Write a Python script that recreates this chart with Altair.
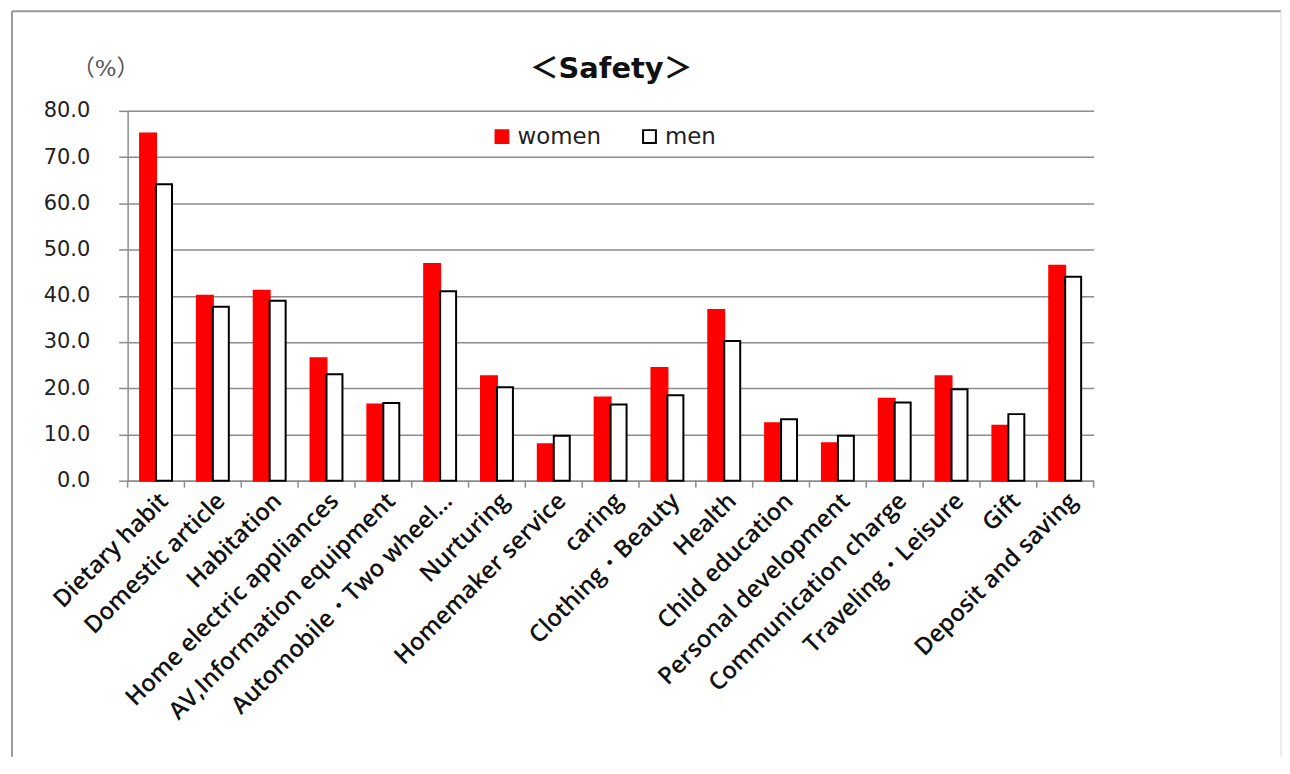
import altair as alt
import pandas as pd

categories = [
    "Dietary habit", "Domestic article", "Habitation", "Home electric appliances",
    "AV,Information equipment", "Automobile・Two wheel…", "Nurturing",
    "Homemaker service", "caring", "Clothing・Beauty", "Health", "Child education",
    "Personal development", "Communication charge", "Traveling・Leisure", "Gift",
    "Deposit and saving",
]
women = [75.1, 40.0, 41.1, 26.5, 16.5, 46.9, 22.6, 7.9, 18.0, 24.4, 36.9, 12.4, 8.1, 17.7, 22.6, 11.9, 46.5]
men = [64.1, 37.6, 38.9, 23.0, 16.8, 41.0, 20.2, 9.7, 16.5, 18.5, 30.2, 13.3, 9.7, 16.9, 19.8, 14.4, 44.1]
series = ["women", "men"]
y_ticks = [0, 10, 20, 30, 40, 50, 60, 70, 80]

rows = []
for c, w, m in zip(categories, women, men):
    rows.append({"category": c, "gender": "women", "value": w})
    rows.append({"category": c, "gender": "men", "value": m})
df = pd.DataFrame(rows)
cat_df = pd.DataFrame({"category": categories})
last_df = pd.DataFrame({"category": categories[-1:]})

W, H = 969, 371
GRAY = "#8c8c8c"

xscale = alt.Scale(paddingInner=0, paddingOuter=0)

legend_kw = dict(
    title=None, orient="none", legendX=364, legendY=14,
    direction="horizontal", symbolType="square", symbolSize=165,
    symbolStrokeWidth=2, labelFont="DejaVu Sans", labelFontSize=23,
    labelColor="#222", columnPadding=36, labelOffset=4, padding=0,
)

bars = alt.Chart(df).mark_bar(strokeWidth=2).encode(
    x=alt.X(
        "category:N", sort=categories, scale=xscale,
        axis=alt.Axis(
            title=None, ticks=False, domainColor=GRAY, domainWidth=1.5,
            labelAngle=-45, labelAlign="right", labelBaseline="top",
            labelFont="Open Sans", labelFontWeight=600, labelFontSize=24,
            labelColor="#111", labelPadding=8, labelLimit=500,
        ),
    ),
    xOffset=alt.XOffset("gender:N", sort=series,
                        scale=alt.Scale(paddingInner=0, paddingOuter=0.78)),
    y=alt.Y(
        "value:Q", scale=alt.Scale(domain=[0, 80]),
        axis=alt.Axis(
            title=None, values=y_ticks, format=".1f", grid=True,
            gridColor=GRAY, gridWidth=1.5, domainColor=GRAY, domainWidth=1.5,
            tickColor=GRAY, tickWidth=1.5, tickSize=9,
            labelFont="DejaVu Sans", labelFontSize=21, labelColor="#222",
            labelPadding=29,
        ),
    ),
    color=alt.Color(
        "gender:N", sort=series,
        scale=alt.Scale(domain=series, range=["#ff0000", "#ffffff"]),
        legend=alt.Legend(**legend_kw),
    ),
    stroke=alt.Stroke(
        "gender:N", sort=series,
        scale=alt.Scale(domain=series, range=["#ff0000", "#000000"]),
        legend=alt.Legend(**legend_kw),
    ),
)

ticks = alt.Chart(cat_df).mark_rule(color=GRAY, strokeWidth=1.5).encode(
    x=alt.X("category:N", sort=categories, bandPosition=0),
    y=alt.datum(0),
    y2=alt.value(H + 7),
)
ticks_end = alt.Chart(last_df).mark_rule(color=GRAY, strokeWidth=1.5).encode(
    x=alt.X("category:N", sort=categories, bandPosition=1),
    y=alt.datum(0),
    y2=alt.value(H + 7),
)

one = alt.Data(values=[{"a": 1}])
frame_top = alt.Chart(one).mark_rule(color="#9a9a9a", strokeWidth=2).encode(
    x=alt.value(-116), x2=alt.value(1157), y=alt.value(-100))
frame_left = alt.Chart(one).mark_rule(color="#9a9a9a", strokeWidth=2).encode(
    x=alt.value(-116), y=alt.value(-100), y2=alt.value(648))
frame_right = alt.Chart(one).mark_rule(color="#dddddd", strokeWidth=1).encode(
    x=alt.value(1157), y=alt.value(-100), y2=alt.value(648))

unit_label = alt.Chart(one).mark_text(
    text="（%）", font="DejaVu Serif, Noto Sans CJK JP", fontSize=23, color="#555"
).encode(x=alt.value(-22), y=alt.value(-42))
title = alt.Chart(one).mark_text(
    text="＜Safety＞", font="DejaVu Sans, Noto Sans CJK JP", fontSize=29,
    fontWeight="bold", color="#111"
).encode(x=alt.value(485), y=alt.value(-42))

chart = alt.layer(
    bars, ticks, ticks_end, frame_top, frame_left, frame_right, unit_label, title
).properties(
    width=W, height=H,
    padding={"left": 3, "top": 1, "right": 0, "bottom": 0},
    background="white",
).configure_view(stroke=None)

chart.save("out.html", embed_options={"renderer": "svg", "actions": False})
